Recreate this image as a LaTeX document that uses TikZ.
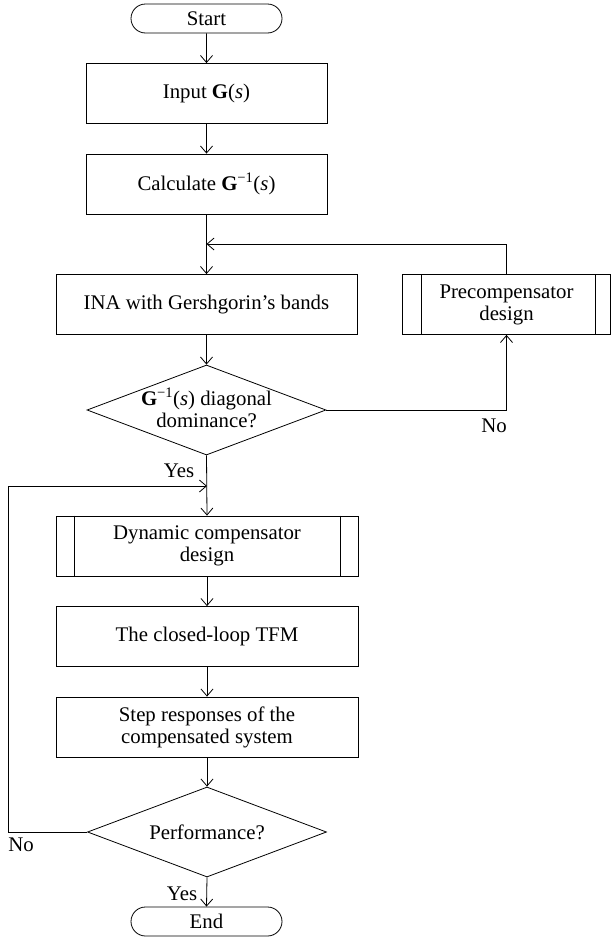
\documentclass[tikz,border=0pt]{standalone}
\usepackage{fontspec}
\setmainfont{Liberation Serif}
\usetikzlibrary{arrows.meta,shapes.geometric,shapes.misc}
\tikzset{
  lw/.style={line width=0.8pt},
  txt/.style={font=\fontsize{20.8}{22}\selectfont, align=center, inner sep=0pt},
  box/.style={txt, lw, draw, rectangle, minimum height=60pt},
  term/.style={txt, lw, draw, rounded rectangle, minimum width=151pt, minimum height=29pt},
  dia/.style={lw, draw, diamond, inner sep=0pt, minimum width=239pt, minimum height=90pt},
  arr/.style={lw, -{Straight Barb[length=7pt,width=12pt]}},
  conn/.style={lw}
}
\begin{document}
\begin{tikzpicture}[x=1pt,y=-1pt]
\useasboundingbox (0,0) rectangle (612,940);
% nodes
\node[term] (start) at (206.5,18.5) {Start};
\node[box, minimum width=241pt] (input) at (206.5,93.5) {Input \textbf{G}(\textit{s})};
\node[box, minimum width=241pt] (calc) at (206.5,184) {Calculate \textbf{G}\textsuperscript{−1}(\textit{s})};
\node[box, minimum width=301pt] (ina) at (206.5,304.5) {INA with Gershgorin’s bands};
\node[box, minimum width=208pt] (pre) at (506.5,304.5) {Precompensator\\design};
\node[dia] (d1) at (206.5,410) {};
\node[txt] (d1t) at (206.5,408) {\textbf{G}\textsuperscript{−1}(\textit{s}) diagonal\\dominance?};
\node[box, minimum width=302pt] (dyn) at (207,546) {Dynamic compensator\\design};
\node[box, minimum width=302pt] (tfm) at (207,636.5) {The closed-loop TFM};
\node[box, minimum width=302pt] (step) at (207,727) {Step responses of the\\compensated system};
\node[dia] (d2) at (207,832) {};
\node[txt] (d2t) at (207,832) {Performance?};
\node[term] (end) at (206.5,921.5) {End};
% predefined-process side bars
\draw[conn] ([xshift=19pt]pre.north west) -- ([xshift=19pt]pre.south west);
\draw[conn] ([xshift=-16pt]pre.north east) -- ([xshift=-16pt]pre.south east);
\draw[conn] ([xshift=19pt]dyn.north west) -- ([xshift=19pt]dyn.south west);
\draw[conn] ([xshift=-18pt]dyn.north east) -- ([xshift=-18pt]dyn.south east);
% junction coordinates
\coordinate (j1) at (206.5,244);
\coordinate (j2) at (207,486);
\coordinate (lx) at (8,486);
% connectors
\draw[arr] (start) -- (input);
\draw[arr] (input) -- (calc);
\draw[arr] (calc) -- (ina);
\draw[arr] (pre.north) |- (j1);
\draw[arr] (d1.east) -| (pre.south);
\draw[arr] (ina) -- (d1.north);
\draw[arr] (d1.south) -- (dyn.north);
\draw[arr] (d2.west) -| (lx) -- (j2);
\draw[arr] (dyn) -- (tfm);
\draw[arr] (tfm) -- (step);
\draw[arr] (step) -- (d2.north);
\draw[arr] (d2.south) -- (end.north);
% labels
\node[txt] (no1) at (494,426) {No};
\node[txt] (yes1) at (179,471) {Yes};
\node[txt] (no2) at (21,845) {No};
\node[txt] (yes2) at (182,894) {Yes};
\end{tikzpicture}
\end{document}
